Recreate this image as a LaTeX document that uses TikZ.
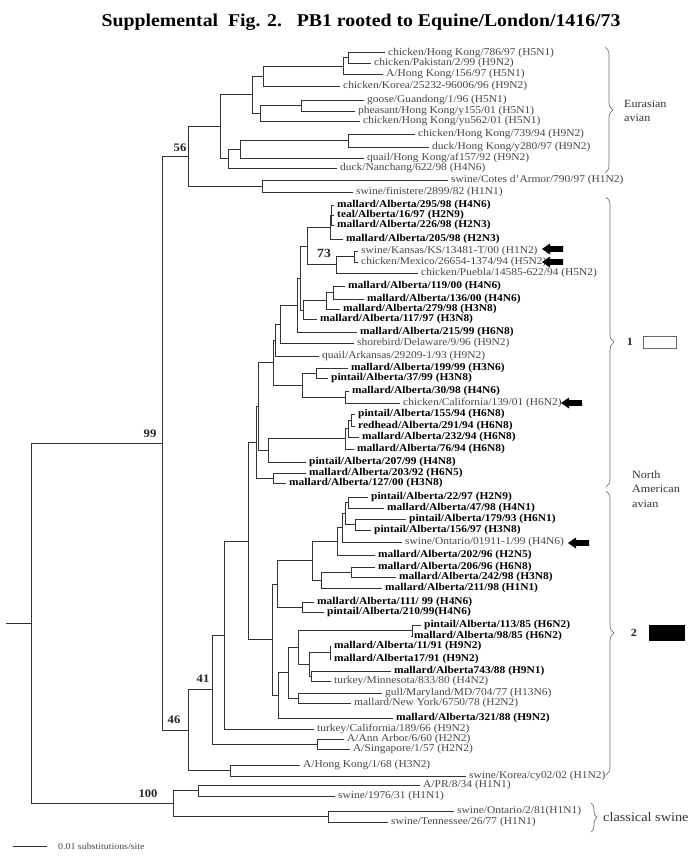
\documentclass[tikz,border=0pt]{standalone}
\usepackage{fontspec}
\setmainfont[FakeStretch=1.1]{Liberation Serif}
\usetikzlibrary{decorations.pathreplacing}
\newcommand{\leafN}[4]{\node[leafn] (#1) at (#2,#3) {#4};}
\newcommand{\leafB}[4]{\node[leafb] (#1) at (#2,#3) {#4};}
\begin{document}
\begin{tikzpicture}[x=1pt,y=-1pt,
  leafn/.style={anchor=west, inner xsep=3pt, inner ysep=0pt, text height=7pt, text depth=2pt,
                font=\fontsize{10.4}{12}\selectfont, text=black!72},
  leafb/.style={leafn, font=\fontsize{10.4}{12}\selectfont\bfseries, text=black},
  branch/.style={draw=black!80, line width=0.8pt},
  bootlbl/.style={font=\fontsize{11.5}{13}\selectfont\bfseries, inner sep=0pt, text=black!85},
  cladebrace/.style={draw=black!55, line width=0.7pt, decorate, decoration={brace, amplitude=8pt}},
  sidelbl/.style={anchor=west, align=left, inner sep=0pt, font=\fontsize{11}{14.5}\selectfont, text=black!80},
  bigarrow/.pic={\fill[black] (0,0) -- (8,-5.5) -- (8,-2.8) -- (21,-2.8) -- (21,2.8) -- (8,2.8) -- (8,5.5) -- cycle;}
]
\useasboundingbox (0,0) rectangle (700,859);
\fill[white] (0,0) rectangle (700,859);

% title
\node[font=\fontsize{18}{20}\selectfont\bfseries, inner sep=0pt] (title) at (361,22)
  {Supplemental\ \ Fig. 2.\ \ \ PB1 rooted to Equine/London/1416/73};

% ---------- leaves ----------
\leafN{l1}{385}{52.7}{chicken/Hong Kong/786/97 (H5N1)}
\leafN{l2}{371}{63}{chicken/Pakistan/2/99 (H9N2)}
\leafN{l3}{383}{74}{A/Hong Kong/156/97 (H5N1)}
\leafN{l4}{340}{86}{chicken/Korea/25232-96006/96 (H9N2)}
\leafN{l5}{364}{100}{goose/Guandong/1/96 (H5N1)}
\leafN{l6}{355}{111}{pheasant/Hong Kong/y155/01 (H5N1)}
\leafN{l7}{360}{121}{chicken/Hong Kong/yu562/01 (H5N1)}
\leafN{l8}{415}{134}{chicken/Hong Kong/739/94 (H9N2)}
\leafN{l9}{429}{147}{duck/Hong Kong/y280/97 (H9N2)}
\leafN{l10}{364}{158}{quail/Hong Kong/af157/92 (H9N2)}
\leafN{l11}{337}{168}{duck/Nanchang/622/98 (H4N6)}
\leafN{l12}{448}{180}{swine/Cotes d'Armor/790/97 (H1N2)}
\leafN{l13}{353}{192}{swine/finistere/2899/82 (H1N1)}
\leafB{l14}{334}{205}{mallard/Alberta/295/98 (H4N6)}
\leafB{l15}{334}{215}{teal/Alberta/16/97 (H2N9)}
\leafB{l16}{334}{225}{mallard/Alberta/226/98 (H2N3)}
\leafB{l17}{343}{239}{mallard/Alberta/205/98 (H2N3)}
\leafN{l18}{358}{251}{swine/Kansas/KS/13481-T/00 (H1N2)}
\leafN{l19}{358}{262}{chicken/Mexico/26654-1374/94 (H5N2)}
\leafN{l20}{418}{273}{chicken/Puebla/14585-622/94 (H5N2)}
\leafB{l21}{345}{286}{mallard/Alberta/119/00 (H4N6)}
\leafB{l22}{364}{299}{mallard/Alberta/136/00 (H4N6)}
\leafB{l23}{340}{309}{mallard/Alberta/279/98 (H3N8)}
\leafB{l24}{317}{319}{mallard/Alberta/117/97 (H3N8)}
\leafB{l25}{357}{332}{mallard/Alberta/215/99 (H6N8)}
\leafN{l26}{354}{343}{shorebird/Delaware/9/96 (H9N2)}
\leafN{l27}{319}{356}{quail/Arkansas/29209-1/93 (H9N2)}
\leafB{l28}{348}{368}{mallard/Alberta/199/99 (H3N6)}
\leafB{l29}{328}{378}{pintail/Alberta/37/99 (H3N8)}
\leafB{l30}{349}{391}{mallard/Alberta/30/98 (H4N6)}
\leafN{l31}{400}{403}{chicken/California/139/01 (H6N2)}
\leafB{l32}{355}{414}{pintail/Alberta/155/94 (H6N8)}
\leafB{l33}{355}{426}{redhead/Alberta/291/94 (H6N8)}
\leafB{l34}{359}{437}{mallard/Alberta/232/94 (H6N8)}
\leafB{l35}{354}{449}{mallard/Alberta/76/94 (H6N8)}
\leafB{l36}{306}{462}{pintail/Alberta/207/99 (H4N8)}
\leafB{l37}{306}{473}{mallard/Alberta/203/92 (H6N5)}
\leafB{l38}{286}{483}{mallard/Alberta/127/00 (H3N8)}
\leafB{l39}{368}{497}{pintail/Alberta/22/97 (H2N9)}
\leafB{l40}{384}{508}{mallard/Alberta/47/98 (H4N1)}
\leafB{l41}{406}{519}{pintail/Alberta/179/93 (H6N1)}
\leafB{l42}{371}{530}{pintail/Alberta/156/97 (H3N8)}
\leafN{l43}{402}{542}{swine/Ontario/01911-1/99 (H4N6)}
\leafB{l44}{375}{555}{mallard/Alberta/202/96 (H2N5)}
\leafB{l45}{375}{567}{mallard/Alberta/206/96 (H6N8)}
\leafB{l46}{396}{577}{mallard/Alberta/242/98 (H3N8)}
\leafB{l47}{382}{588}{mallard/Alberta/211/98 (H1N1)}
\leafB{l48}{314}{602}{mallard/Alberta/111/ 99 (H4N6)}
\leafB{l49}{324}{612}{pintail/Alberta/210/99(H4N6)}
\leafB{l50}{421}{625}{pintail/Alberta/113/85 (H6N2)}
\leafB{l51}{411}{636}{mallard/Alberta/98/85 (H6N2)}
\leafB{l52}{331}{646}{mallard/Alberta/11/91 (H9N2)}
\leafB{l53}{331}{659}{mallard/Alberta17/91 (H9N2)}
\leafB{l54}{391}{671}{mallard/Alberta743/88 (H9N1)}
\leafN{l55}{331}{681}{turkey/Minnesota/833/80 (H4N2)}
\leafN{l56}{382}{693}{gull/Maryland/MD/704/77 (H13N6)}
\leafN{l57}{351}{703}{mallard/New York/6750/78 (H2N2)}
\leafB{l58}{393}{718}{mallard/Alberta/321/88 (H9N2)}
\leafN{l59}{314}{729}{turkey/California/189/66 (H9N2)}
\leafN{l60}{344}{739}{A/Ann Arbor/6/60 (H2N2)}
\leafN{l61}{350}{749}{A/Singapore/1/57 (H2N2)}
\leafN{l62}{300}{765}{A/Hong Kong/1/68 (H3N2)}
\leafN{l63}{466}{776}{swine/Korea/cy02/02 (H1N2)}
\leafN{l64}{420}{785}{A/PR/8/34 (H1N1)}
\leafN{l65}{335}{796}{swine/1976/31 (H1N1)}
\leafN{l66}{454}{811}{swine/Ontario/2/81(H1N1)}
\leafN{l67}{388}{822}{swine/Tennessee/26/77 (H1N1)}

% ---------- internal nodes ----------
\coordinate (iA) at (348,57.9);
\coordinate (iB) at (343,66);
\coordinate (iC) at (263,76);
\coordinate (iF) at (301,105.5);
\coordinate (iE) at (260,113.3);
\coordinate (iD) at (252,94.6);
\coordinate (iG) at (348,140.5);
\coordinate (iH) at (240,149.3);
\coordinate (iJ) at (228,158.6);
\coordinate (iI) at (220,126.6);
\coordinate (iS) at (262,186);
\coordinate (n56) at (188,156.3);
\coordinate (iK0) at (331.5,215);
\coordinate (iK) at (330,227);
\coordinate (iL) at (354,256.5);
\coordinate (iM) at (336,264.8);
\coordinate (iN) at (307,245.9);
\coordinate (iP) at (333,292.5);
\coordinate (iQ) at (326,300.8);
\coordinate (iR) at (303,309.9);
\coordinate (iO) at (300,277.9);
\coordinate (iT) at (297,305);
\coordinate (iU) at (280,324);
\coordinate (iV) at (275,340);
\coordinate (iW) at (316,373);
\coordinate (iX) at (345,397);
\coordinate (iY) at (302,385);
\coordinate (iZ) at (273,362.5);
\coordinate (iAD) at (351,420);
\coordinate (iAE) at (348,428.5);
\coordinate (iAF) at (345,438.8);
\coordinate (iAG) at (268,450.4);
\coordinate (iAA) at (258,406.5);
\coordinate (iAH) at (273,478);
\coordinate (iAB) at (256,442.2);
\coordinate (iX1) at (348,502.5);
\coordinate (iBB) at (355,524.5);
\coordinate (iBC) at (345,513.5);
\coordinate (iBD) at (342,527.8);
\coordinate (iBE) at (337,541.4);
\coordinate (iBF) at (351,572);
\coordinate (iBG) at (321,580);
\coordinate (iBH) at (312,560.7);
\coordinate (iBJ) at (302,607);
\coordinate (iBI) at (277,583.9);
\coordinate (iBM) at (412,630.5);
\coordinate (iBN) at (330,652.5);
\coordinate (iBP) at (311,676);
\coordinate (iBO) at (309,664.3);
\coordinate (iBQ) at (298,647.4);
\coordinate (iBS) at (298,698);
\coordinate (iBR) at (288,672.7);
\coordinate (iBL) at (278,695.4);
\coordinate (iBK) at (272,639.6);
\coordinate (iAC) at (248,540.9);
\coordinate (iAI) at (224,635);
\coordinate (iAJ) at (317,744);
\coordinate (n41) at (212,689.5);
\coordinate (iAK) at (230,770.5);
\coordinate (n46) at (188,730);
\coordinate (n99) at (162,443);
\coordinate (iP1) at (198,790.5);
\coordinate (iP2) at (328,816.5);
\coordinate (n100) at (173,803.5);
\coordinate (root) at (31,623);
\coordinate (stub) at (6,623);

% ---------- branches ----------
\foreach \p/\c in {iA/l1.west, iA/l2.west, iB/iA, iB/l3.west, iC/iB, iC/l4.west,
  iF/l5.west, iF/l6.west, iE/iF, iE/l7.west, iD/iC, iD/iE,
  iG/l8.west, iG/l9.west, iH/iG, iH/l10.west, iJ/iH, iJ/l11.west, iI/iD, iI/iJ,
  iS/l12.west, iS/l13.west, n56/iI, n56/iS,
  iK0/l14.west, iK0/l15.west, iK0/l16.west, iK/iK0, iK/l17.west,
  iL/l18.west, iL/l19.west, iM/iL, iM/l20.west, iN/iK, iN/iM,
  iP/l21.west, iP/l22.west, iQ/iP, iQ/l23.west, iR/iQ, iR/l24.west,
  iO/iN, iO/iR, iT/iO, iT/l25.west, iU/iT, iU/l26.west, iV/iU, iV/l27.west,
  iW/l28.west, iW/l29.west, iX/l30.west, iX/l31.west, iY/iW, iY/iX, iZ/iV, iZ/iY,
  iAD/l32.west, iAD/l33.west, iAE/iAD, iAE/l34.west, iAF/iAE, iAF/l35.west,
  iAG/iAF, iAG/l36.west, iAA/iZ, iAA/iAG, iAH/l37.west, iAH/l38.west, iAB/iAA, iAB/iAH,
  iX1/l39.west, iX1/l40.west, iBB/l41.west, iBB/l42.west, iBC/iX1, iBC/iBB,
  iBD/iBC, iBD/l43.west, iBE/iBD, iBE/l44.west, iBF/l45.west, iBF/l46.west,
  iBG/iBF, iBG/l47.west, iBH/iBE, iBH/iBG, iBJ/l48.west, iBJ/l49.west, iBI/iBH, iBI/iBJ,
  iBM/l50.west, iBM/l51.west, iBN/l52.west, iBN/l53.west, iBP/l54.west, iBP/l55.west,
  iBO/iBN, iBO/iBP, iBQ/iBM, iBQ/iBO, iBS/l56.west, iBS/l57.west, iBR/iBQ, iBR/iBS,
  iBL/iBR, iBL/l58.west, iBK/iBI, iBK/iBL, iAC/iAB, iAC/iBK, iAI/iAC, iAI/l59.west,
  iAJ/l60.west, iAJ/l61.west, n41/iAI, n41/iAJ, iAK/l62.west, iAK/l63.west,
  n46/n41, n46/iAK, n99/n56, n99/n46,
  iP1/l64.west, iP1/l65.west, iP2/l66.west, iP2/l67.west, n100/iP1, n100/iP2,
  root/n99, root/n100}
  {\draw[branch] (\p) |- (\c);}
\draw[branch] (stub) -- (root);

% ---------- bootstrap values ----------
\node[bootlbl] (b56) at (180,148) {56};
\node[bootlbl] (b99) at (150,434) {99};
\node[bootlbl, font=\fontsize{12.5}{14}\selectfont\bfseries] (b73) at (324,253) {73};
\node[bootlbl] (b41) at (203,679) {41};
\node[bootlbl] (b46) at (174,720) {46};
\node[bootlbl] (b100) at (148,794) {100};

% ---------- arrows ----------
\pic at (542,249) {bigarrow};
\pic at (542,262) {bigarrow};
\pic at (561,403) {bigarrow};
\pic at (568,543) {bigarrow};

% ---------- clade braces and labels ----------
\coordinate (eu1) at (605,47);   \coordinate (eu2) at (605,173);
\coordinate (c1a) at (606,197);  \coordinate (c1b) at (606,487);
\coordinate (c2a) at (606,491);  \coordinate (c2b) at (606,775);
\coordinate (cs1) at (591,803);  \coordinate (cs2) at (591,832);
\draw[cladebrace] (eu1) -- (eu2);
\draw[cladebrace] (c1a) -- (c1b);
\draw[cladebrace] (c2a) -- (c2b);
\draw[cladebrace, decoration={brace, amplitude=6pt}] (cs1) -- (cs2);

\node[sidelbl] (eulbl) at (624,111) {Eurasian\\avian};
\node[sidelbl] (nalbl) at (632,489) {North\\American\\avian};
\node[sidelbl, font=\fontsize{13}{15}\selectfont] (cslbl) at (603,817) {classical swine};

\node[bootlbl, font=\fontsize{11}{13}\selectfont\bfseries] (one) at (630,342) {1};
\node[draw=black!60, line width=0.6pt, minimum width=33pt, minimum height=12pt, inner sep=0pt] (box1) at (660,342) {};
\node[bootlbl, font=\fontsize{11}{13}\selectfont\bfseries] (two) at (634,633) {2};
\node[fill=black, minimum width=36pt, minimum height=16pt, inner sep=0pt] (box2) at (667,633) {};

% ---------- scale bar ----------
\coordinate (sb1) at (13,846);
\coordinate (sb2) at (47,846);
\draw[branch] (sb1) -- (sb2);
\node[anchor=west, inner sep=0pt, font=\fontsize{9}{10}\selectfont, text=black!72] (sblbl) at (58,846) {0.01 substitutions/site};
\end{tikzpicture}
\end{document}
